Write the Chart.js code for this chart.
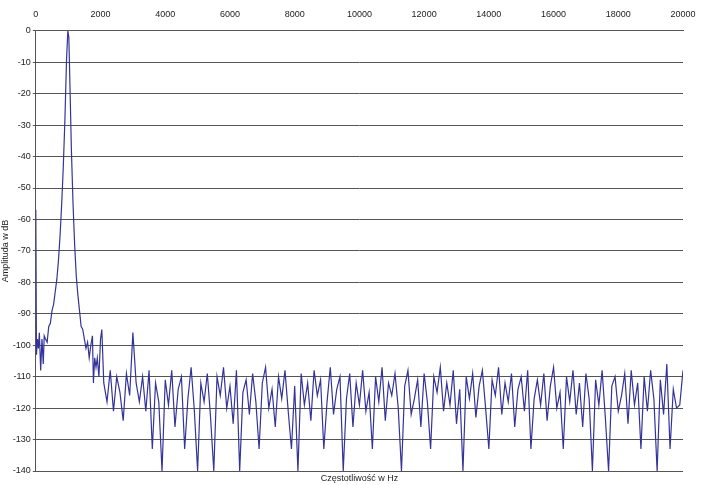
<!DOCTYPE html>
<html>
<head>
<meta charset="utf-8">
<script src="https://cdn.jsdelivr.net/npm/chart.js@4.4.1/dist/chart.umd.min.js"></script>
<style>
  html, body { margin: 0; padding: 0; background: #fff; }
  #wrap { position: relative; width: 705px; height: 485px; }
</style>
</head>
<body>
<div id="wrap"><canvas id="c" width="705" height="485"></canvas></div>
<script>
// low band, explicit frequencies (Hz) and levels (dB)
var lowFreq = [0, 20, 50, 80, 110, 150, 190, 230, 260, 300, 350, 400, 450, 500, 550, 600, 650, 700, 750, 800, 850, 900, 950, 990, 1020, 1050, 1100, 1150, 1200, 1250, 1300, 1350, 1400, 1450, 1500, 1550, 1600, 1650, 1700, 1750, 1780, 1820, 1860, 1900, 1950, 2000, 2040];
var lowLevel = [-57, -103, -98, -101, -96, -108, -98, -106, -97, -98, -99, -94, -93, -89, -87, -83, -79, -73, -65, -55, -43, -28, -9, 0, -2, -15, -38, -55, -68, -78, -84, -89, -94, -95, -98, -101, -99, -104, -100, -97, -112, -104, -107, -104, -110, -98, -95];

// noise floor, every 100 Hz from 2100 to 20000
var noiseStart = 2100, noiseStep = 100;
var noiseLevel = [
  -112, -118, -108, -121, -110, -115, -124, -109, -116, -96, -112, -118, -110, -121, -108, -133, -112, -118, -140, -111,
  -119, -108, -126, -114, -110, -133, -117, -107, -121, -140, -112, -118, -109, -123, -140, -110, -116, -107, -120, -113,
  -125, -108, -140, -115, -111, -122, -109, -118, -133, -112, -107, -120, -114, -126, -110, -117, -108, -121, -133, -113,
  -140, -109, -119, -112, -124, -108, -116, -111, -133, -118, -107, -122, -114, -110, -140, -117, -109, -126, -112, -119,
  -108, -121, -115, -133, -110, -118, -107, -124, -112, -116, -109, -120, -140, -113, -108, -122, -117, -111, -126, -109,
  -118, -133, -110, -115, -107, -121, -112, -119, -108, -125, -114, -140, -110, -117, -109, -123, -113, -108, -120, -133,
  -111, -116, -107, -122, -112, -118, -109, -126, -114, -110, -121, -108, -133, -117, -111, -119, -109, -124, -113, -107,
  -120, -115, -133, -110, -118, -108, -122, -112, -126, -109, -117, -140, -111, -119, -108, -123, -140, -113, -110, -121,
  -116, -109, -125, -108, -119, -112, -133, -110, -121, -108, -117, -140, -111, -122, -106, -133, -114, -120, -119, -108
];

var xTicks = [0, 2000, 4000, 6000, 8000, 10000, 12000, 14000, 16000, 18000, 20000];

var points = lowFreq.map(function (f, i) { return { x: f, y: lowLevel[i] }; });
noiseLevel.forEach(function (v, i) { points.push({ x: noiseStart + i * noiseStep, y: v }); });

Chart.defaults.font.family = '"Liberation Sans", Arial, sans-serif';
Chart.defaults.font.size = 9;
Chart.defaults.color = '#222';

new Chart(document.getElementById('c'), {
    type: 'line',
    data: {
        datasets: [{
            data: points,
            borderColor: '#33339a',
            borderWidth: 1.2,
            pointRadius: 0,
            tension: 0,
            fill: false
        }]
    },
    options: {
        responsive: false,
        animation: false,
        layout: { padding: { left: 0, right: 22, top: 6, bottom: 0 } },
        plugins: { legend: { display: false }, tooltip: { enabled: false } },
        scales: {
            x: {
                type: 'linear',
                position: 'top',
                min: 0, max: 20000,
                afterBuildTicks: function (ax) { ax.ticks = xTicks.map(function (v) { return { value: v }; }); },
                grid: { display: false },
                border: { display: true, color: '#555', width: 1 },
                ticks: { maxRotation: 0, padding: 3, callback: function (v) { return String(v); } }
            },
            xb: {
                type: 'linear',
                position: 'bottom',
                min: 0, max: 20000,
                grid: { display: false },
                border: { display: false },
                ticks: { display: false, padding: 0 },
                afterFit: function (ax) { ax.height = 14; },
                title: { display: false }
            },
            y: {
                min: -140, max: 0,
                ticks: { stepSize: 10, padding: 2 },
                grid: { color: '#555', lineWidth: 1, tickLength: 3 },
                border: { display: true, color: '#555', width: 1 },
                title: { display: true, text: 'Amplituda w dB', padding: { top: 0, bottom: 0 } }
            }
        }
    },
    plugins: [{
        id: 'xTitle',
        afterDraw: function (chart) {
            var ctx = chart.ctx, a = chart.chartArea;
            ctx.save();
            ctx.fillStyle = '#222';
            ctx.font = '9px "Liberation Sans", Arial, sans-serif';
            ctx.textAlign = 'center';
            ctx.textBaseline = 'middle';
            ctx.fillText('Częstotliwość w Hz', (a.left + a.right) / 2, a.bottom + 8);
            ctx.restore();
        }
    }]
});
</script>
</body>
</html>
